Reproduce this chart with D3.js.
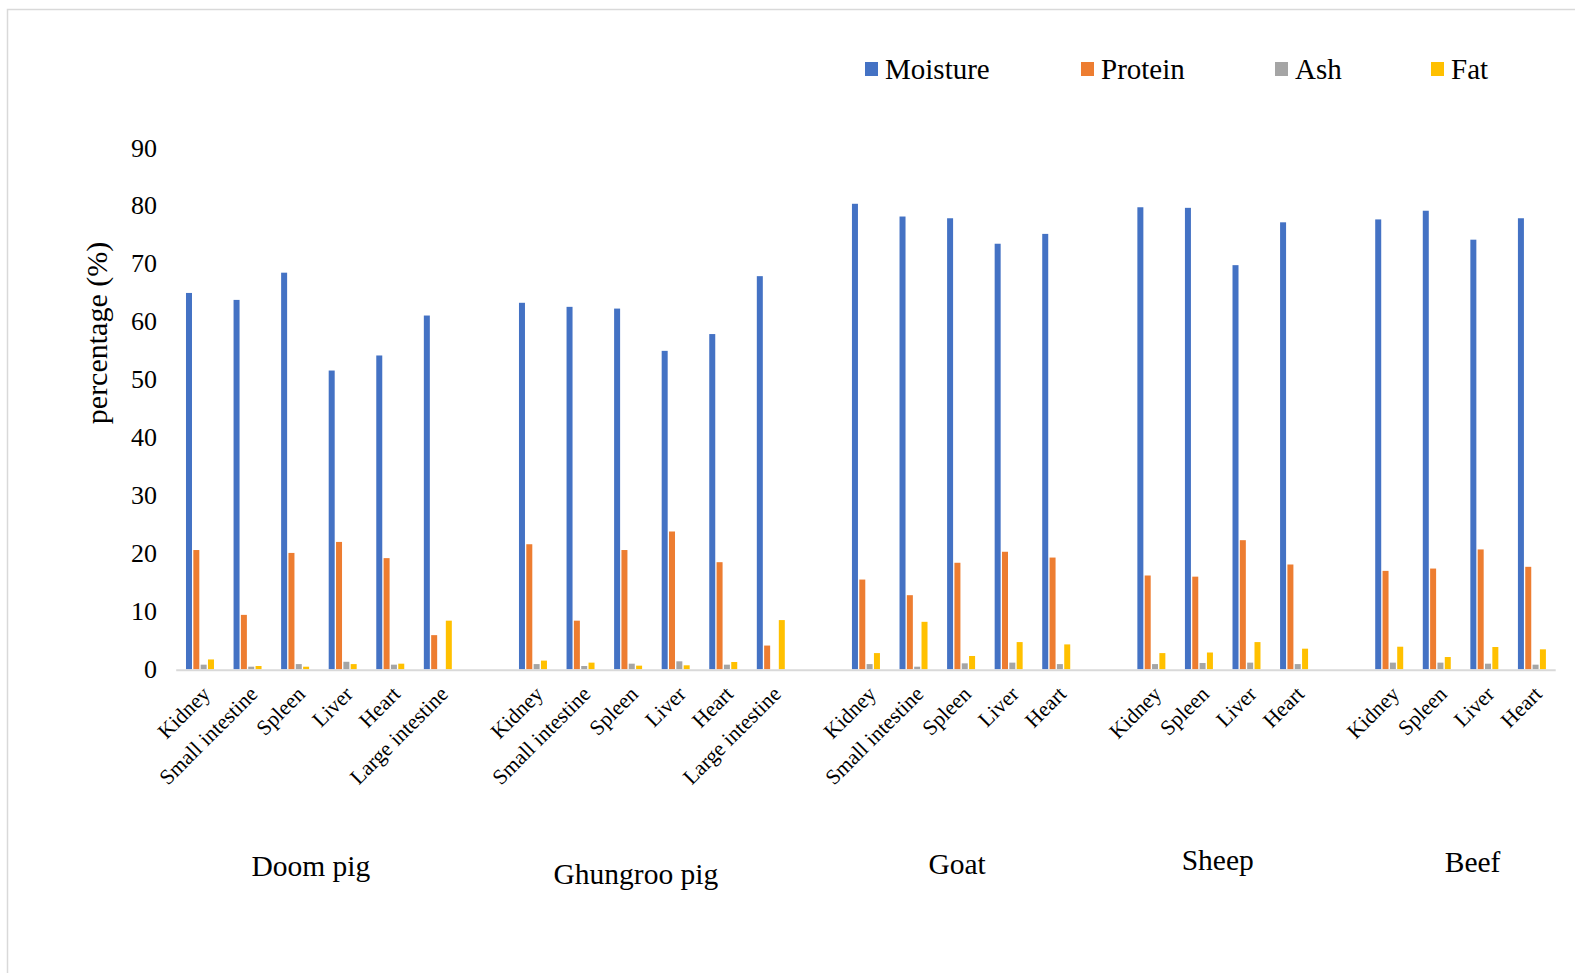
<!DOCTYPE html>
<html>
<head>
<meta charset="utf-8">
<script src="https://cdn.jsdelivr.net/npm/d3@7"></script>
<style>
  html, body { margin: 0; padding: 0; background: #fff; }
  svg { display: block; font-family: "Liberation Serif", "Times New Roman", serif; }
</style>
</head>
<body>
<svg id="chart" width="1575" height="973"></svg>
<script>
// Proximate composition of offal by species and organ (%)
const groups = ["Doom pig", "Ghungroo pig", "Goat", "Sheep", "Beef"];
const organsByGroup = [
  ["Kidney", "Small intestine", "Spleen", "Liver", "Heart", "Large intestine"],
  ["Kidney", "Small intestine", "Spleen", "Liver", "Heart", "Large intestine"],
  ["Kidney", "Small intestine", "Spleen", "Liver", "Heart"],
  ["Kidney", "Spleen", "Liver", "Heart"],
  ["Kidney", "Spleen", "Liver", "Heart"]
];
const seriesNames = ["Moisture", "Protein", "Ash", "Fat"];

const moisture = [
  [65.0, 63.8, 68.5, 51.6, 54.2, 61.1],
  [63.3, 62.6, 62.3, 55.0, 57.9, 67.9],
  [80.4, 78.2, 77.9, 73.5, 75.2],
  [79.8, 79.7, 69.8, 77.2],
  [77.7, 79.2, 74.2, 77.9]
];
const protein = [
  [20.6, 9.4, 20.1, 22.0, 19.2, 5.9],
  [21.6, 8.4, 20.6, 23.8, 18.5, 4.1],
  [15.5, 12.8, 18.4, 20.3, 19.3],
  [16.2, 16.0, 22.3, 18.1],
  [17.0, 17.4, 20.7, 17.7]
];
const ash = [
  [0.8, 0.45, 0.9, 1.3, 0.8, 0.0],
  [0.9, 0.57, 0.97, 1.38, 0.8, 0.0],
  [0.9, 0.45, 1.03, 1.15, 0.9],
  [0.9, 1.09, 1.15, 0.9],
  [1.15, 1.15, 0.97, 0.8]
];
const fat = [
  [1.7, 0.57, 0.45, 0.9, 0.97, 8.4],
  [1.5, 1.15, 0.63, 0.69, 1.26, 8.5],
  [2.8, 8.2, 2.3, 4.7, 4.3],
  [2.8, 2.9, 4.7, 3.56],
  [3.9, 2.12, 3.85, 3.45]
];
const yTicks = [0, 10, 20, 30, 40, 50, 60, 70, 80, 90];

const colors = ["#4472C4", "#ED7D31", "#A5A5A5", "#FFC000"];
const seriesValues = [moisture, protein, ash, fat];

// Flatten into category slots, with an empty slot between species
const slots = [];
groups.forEach((g, gi) => {
  organsByGroup[gi].forEach((organ, oi) => {
    slots.push({
      key: gi + "-" + oi, group: gi, organ,
      values: seriesValues.map(s => s[gi][oi])
    });
  });
  if (gi < groups.length - 1) slots.push({ key: "gap-" + gi, group: gi, organ: null, values: null });
});

const svg = d3.select("#chart");

// Outer frame
svg.append("rect")
  .attr("x", 7.5).attr("y", 9.5)
  .attr("width", 1620).attr("height", 1020)
  .attr("fill", "none").attr("stroke", "#d9d9d9").attr("stroke-width", 1.5);

const x0 = 176.2, x1 = 1555.7;
const yBase = 669.3, yTop = 148.2;

const x = d3.scaleBand().domain(slots.map(d => d.key)).range([x0, x1]).padding(0);
const y = d3.scaleLinear().domain([0, 90]).range([yBase, yTop]);
const barStep = 7.33, barW = 6;
const xs = d3.scaleBand().domain(seriesNames).range([-2 * barStep, 2 * barStep]).padding(0);

// Y axis labels (no line, no ticks)
const yAxis = d3.axisLeft(y).tickValues(yTicks).tickSize(0).tickPadding(0);
const yG = svg.append("g").attr("transform", "translate(157,0)").call(yAxis);
yG.select(".domain").remove();
yG.selectAll("text")
  .attr("font-family", "Liberation Serif, serif")
  .attr("font-size", 26).attr("fill", "#000").attr("dy", "0.3em");

// Y axis title
svg.append("text")
  .attr("transform", "translate(100,333) rotate(-90)")
  .attr("text-anchor", "middle").attr("dominant-baseline", "middle")
  .attr("font-size", 30).attr("fill", "#000")
  .text("percentage (%)");

// Bars
const cat = svg.append("g").selectAll("g")
  .data(slots.filter(d => d.values))
  .join("g")
  .attr("transform", d => `translate(${x(d.key) + x.bandwidth() / 2},0)`);

cat.selectAll("rect")
  .data(d => d.values.map((v, i) => ({ v, i })))
  .join("rect")
  .attr("x", d => xs(seriesNames[d.i]) + (barStep - barW) / 2)
  .attr("width", barW)
  .attr("y", d => y(d.v))
  .attr("height", d => yBase - y(d.v))
  .attr("fill", d => colors[d.i]);

// Category axis line
svg.append("line")
  .attr("x1", x0).attr("x2", x1)
  .attr("y1", yBase + 1).attr("y2", yBase + 1)
  .attr("stroke", "#d9d9d9").attr("stroke-width", 2);

// Organ labels, rotated
svg.append("g").selectAll("text")
  .data(slots.filter(d => d.organ))
  .join("text")
  .attr("transform", d => `translate(${x(d.key) + x.bandwidth() / 2 + 6},690) rotate(-45)`)
  .attr("text-anchor", "end")
  .attr("dy", "0.35em")
  .attr("font-size", 21.5).attr("fill", "#000")
  .text(d => d.organ);

// Species labels, placed under each run of organs
const groupNudge = [[-8, 869], [-16, 877], [-4, 867], [-5, 863], [12, 865]];
groups.forEach((g, gi) => {
  const keys = slots.filter(d => d.organ && d.group === gi).map(d => d.key);
  const cx = (x(keys[0]) + x(keys[keys.length - 1]) + x.bandwidth()) / 2;
  svg.append("text")
    .attr("x", cx + groupNudge[gi][0]).attr("y", groupNudge[gi][1])
    .attr("text-anchor", "middle").attr("dominant-baseline", "middle")
    .attr("font-size", 29.5).attr("fill", "#000")
    .text(g);
});

// Legend
const legendX = [865, 1081, 1275, 1431];
const leg = svg.append("g").selectAll("g")
  .data(seriesNames)
  .join("g")
  .attr("transform", (d, i) => `translate(${legendX[i]},62)`);
leg.append("rect").attr("width", 13).attr("height", 14).attr("fill", (d, i) => colors[i]);
leg.append("text")
  .attr("x", 20).attr("y", 7).attr("dy", "0.35em")
  .attr("font-size", 29).attr("fill", "#000")
  .text(d => d);
</script>
</body>
</html>
